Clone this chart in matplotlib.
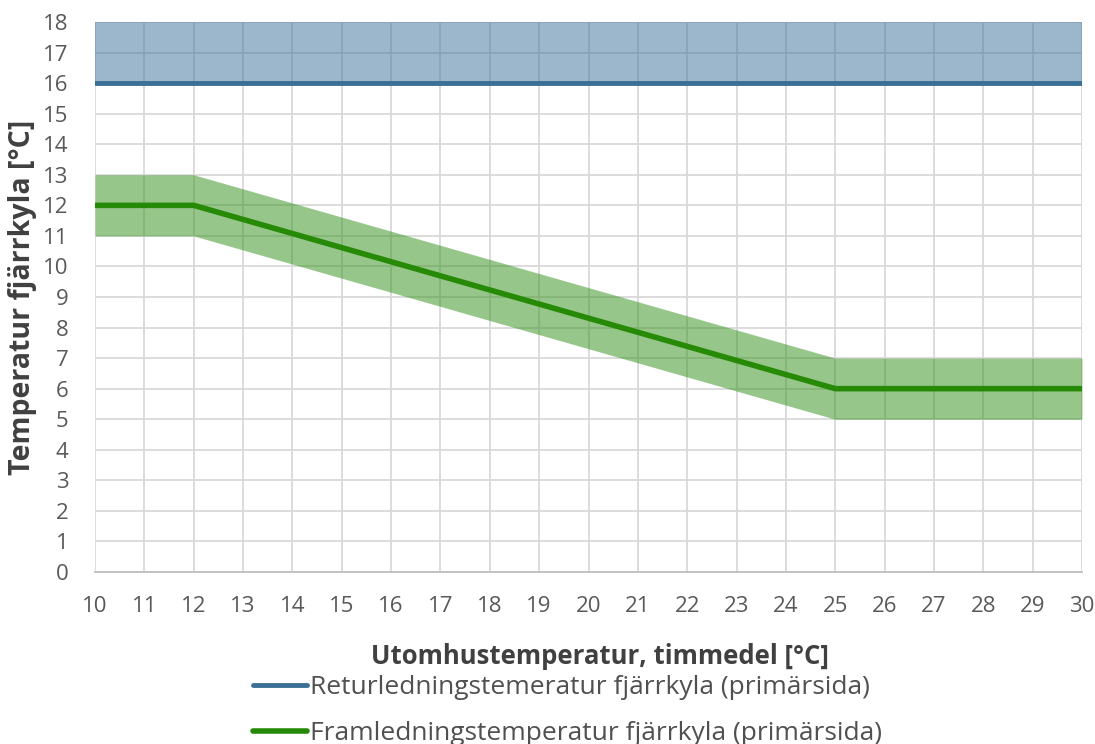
import numpy as np
import matplotlib.pyplot as plt

plt.rcParams['font.family'] = ['Open Sans', 'DejaVu Sans']

# outdoor temperature breakpoints
ute = [10, 12, 25, 30]
# supply temperature (framledning) and band
fram = [12, 12, 6, 6]
fram_lo = [11, 11, 5, 5]
fram_hi = [13, 13, 7, 7]
# return temperature (returledning) and band
retur = [16, 16, 16, 16]
retur_hi = [18, 18, 18, 18]

fig = plt.figure(figsize=(10.95, 7.44), dpi=100)
ax = fig.add_axes([0.0868, 0.2312, 0.9013, 0.7392])

ax.fill_between(ute, retur, retur_hi, color='#3a7199', alpha=0.5, lw=0, zorder=2)
ax.fill_between(ute, fram_lo, fram_hi, color='#2f8f14', alpha=0.5, lw=0, zorder=2)
ax.plot(ute, retur, color='#3a6f96', lw=3.5, solid_capstyle='round', zorder=3,
        label='Returledningstemeratur fjärrkyla (primärsida)')
ax.plot(ute, fram, color='#268a06', lw=4, solid_capstyle='round', zorder=3,
        label='Framledningstemperatur fjärrkyla (primärsida)')

ax.set_xlim(10, 30)
ax.set_ylim(0, 18)
ax.set_xticks(range(10, 31))
ax.set_yticks(range(0, 19))
ax.grid(True, color='#d9d9d9', lw=1.3, zorder=0)
ax.set_axisbelow(True)
for s in ['top', 'right', 'left']:
    ax.spines[s].set_visible(False)
ax.spines['bottom'].set_color('#bfbfbf')
ax.spines['bottom'].set_linewidth(1.3)
ax.tick_params(length=0, labelsize=16, colors='#595959')
ax.tick_params(axis='y', pad=19)
ax.tick_params(axis='x', pad=17)

ax.set_xlabel('Utomhustemperatur, timmedel [°C]', fontsize=18.5, fontweight='bold',
              color='#404040')
ax.xaxis.set_label_coords(0.512, -0.129)
ax.set_ylabel('Temperatur fjärrkyla [°C]', fontsize=20.5, fontweight='bold',
              color='#404040')
ax.yaxis.set_label_coords(-0.059, 0.5)

fig.legend(loc='upper left', bbox_to_anchor=(0.231, 0.0927), frameon=False, ncol=1,
           fontsize=19, handlelength=2.05, handletextpad=0.1, labelspacing=0.8,
           borderpad=0, borderaxespad=0, labelcolor='#505050')

fig.savefig('out.png', dpi=100)
